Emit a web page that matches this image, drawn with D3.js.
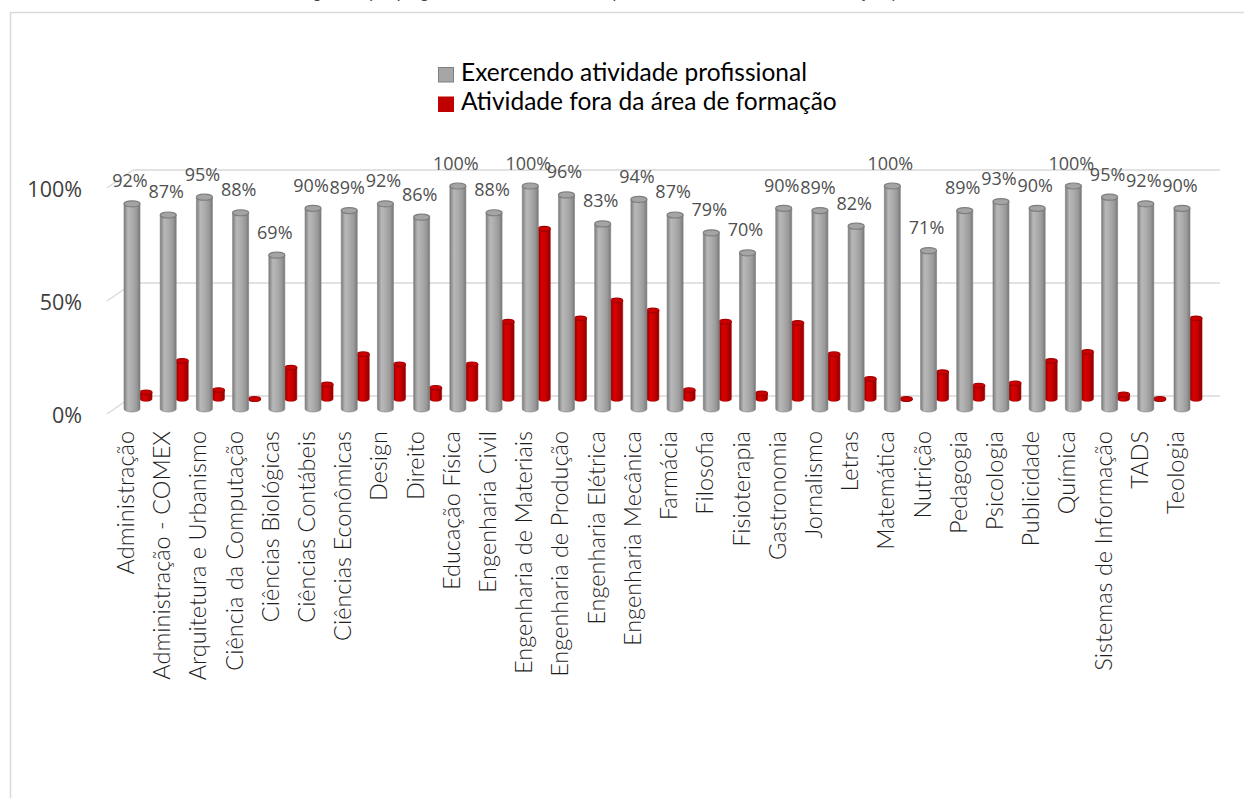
<!DOCTYPE html>
<html><head><meta charset="utf-8">
<script src="https://cdn.jsdelivr.net/npm/d3@7"></script>
<style>
html,body{margin:0;padding:0;background:#fff;}
svg{display:block;}
</style></head>
<body>
<svg id="chart" width="1244" height="798"></svg>
<script>
const categories = ["Administração","Administração - COMEX","Arquitetura e Urbanismo","Ciência da Computação","Ciências Biológicas","Ciências Contábeis","Ciências Econômicas","Design","Direito","Educação Física","Engenharia Civil","Engenharia de Materiais","Engenharia de Produção","Engenharia Elétrica","Engenharia Mecânica","Farmácia","Filosofia","Fisioterapia","Gastronomia","Jornalismo","Letras","Matemática","Nutrição","Pedagogia","Psicologia","Publicidade","Química","Sistemas de Informação","TADS","Teologia"];
const exercendo = [0.92,0.87,0.95,0.88,0.69,0.90,0.89,0.92,0.86,1.00,0.88,1.00,0.96,0.83,0.94,0.87,0.79,0.70,0.90,0.89,0.82,1.00,0.71,0.89,0.93,0.90,1.00,0.95,0.92,0.90];
const foraArea = [0.03,0.17,0.04,0.00,0.14,0.065,0.20,0.155,0.05,0.155,0.345,0.76,0.36,0.44,0.395,0.04,0.345,0.025,0.34,0.20,0.09,0.00,0.12,0.06,0.07,0.17,0.21,0.02,0.00,0.36];
const seriesNames = ["Exercendo atividade profissional","Atividade fora da área de formação"];
const yTicks = [0,0.5,1];
const titleText = "Gráfico 1. Percentual de egressos por programa exercendo atividade profissional e fora da área de formação, por curso";

const svg = d3.select("#chart");
const defs = svg.append("defs");
function grad(id, stops){
  const g = defs.append("linearGradient").attr("id",id).attr("x1","0%").attr("x2","100%").attr("y1","0%").attr("y2","0%");
  stops.forEach(s=>g.append("stop").attr("offset",s[0]).attr("stop-color",s[1]));
}
grad("gGray",[["0%","#7c7c7c"],["25%","#b8b8b8"],["50%","#adadad"],["80%","#999"],["100%","#777"]]);
grad("gRed",[["0%","#8c0000"],["30%","#dc0000"],["60%","#c80000"],["100%","#900000"]]);

// frame & title
svg.append("rect").attr("x",10.5).attr("y",12.5).attr("width",1400).attr("height",900)
  .attr("fill","none").attr("stroke","#d9d9d9").attr("stroke-width",1.5);
svg.append("text").attr("x",545).attr("y",-2).attr("text-anchor","middle")
  .attr("font-family","Lato, sans-serif").attr("font-size",16).attr("fill","#404040").text(titleText);

const x = d3.scalePoint().domain(categories).range([132,1182]);
const yWall = d3.scaleLinear().domain([0,1]).range([396,170]);
const yGray = d3.scaleLinear().domain([0,1]).range([409,186]);
const yRed = d3.scaleLinear().domain([0,1]).range([399,175]);
const depthDx = 26, depthDy = 18;
const wallLeft = 133, wallRight = 1220;

// gridlines (back wall + side wall)
const grid = svg.append("g").attr("stroke","#d9d9d9").attr("stroke-width",1.5).attr("fill","none");
yTicks.forEach(t=>{
  grid.append("line").attr("x1",wallLeft).attr("x2",wallRight).attr("y1",yWall(t)).attr("y2",yWall(t));
  grid.append("line").attr("x1",wallLeft).attr("y1",yWall(t)).attr("x2",wallLeft-depthDx).attr("y2",yWall(t)+depthDy);
});
svg.append("g").selectAll("text").data(yTicks).join("text")
  .attr("x",82).attr("y",t=>yWall(t)+depthDy+9).attr("text-anchor","end")
  .attr("font-family","'Open Sans', sans-serif").attr("font-size",21.5).attr("fill","#404040")
  .text(d3.format(".0%"));

function cylinder(g, cx, yTop, yBase, rx, ry, fillId, capFill, capStroke){
  g.append("path")
    .attr("d",`M${cx-rx},${yTop} L${cx-rx},${yBase} A${rx},${ry} 0 0 0 ${cx+rx},${yBase} L${cx+rx},${yTop} Z`)
    .attr("fill",`url(#${fillId})`).attr("stroke",capStroke).attr("stroke-width",0.6);
  g.append("ellipse").attr("cx",cx).attr("cy",yTop).attr("rx",rx).attr("ry",ry)
    .attr("fill",capFill).attr("stroke",capStroke).attr("stroke-width",1.2);
}

// red (back row)
const gRed = svg.append("g");
categories.forEach((c,i)=>{
  const cx = x(c)+14;
  cylinder(gRed, cx, yRed(foraArea[i]), yRed(0), 6, 2.3, "gRed", "#cc0000", "#a00000");
});
// gray (front row)
const gGray = svg.append("g");
categories.forEach((c,i)=>{
  cylinder(gGray, x(c), yGray(exercendo[i]), yGray(0), 8, 3, "gGray", "#a4a4a4", "#7f7f7f");
});

// value labels
svg.append("g").selectAll("text").data(categories).join("text")
  .attr("x",c=>x(c)-2).attr("y",(c,i)=>yGray(exercendo[i])-16.5).attr("text-anchor","middle")
  .attr("font-family","'Open Sans', sans-serif").attr("font-size",18).attr("fill","#505050")
  .text((c,i)=>d3.format(".0%")(exercendo[i]));

// category labels
svg.append("g").selectAll("text").data(categories).join("text")
  .attr("transform",c=>`translate(${x(c)+2},431) rotate(-90)`).attr("text-anchor","end")
  .attr("font-family","Lato, sans-serif").attr("font-size",23.5).attr("font-weight",300).attr("fill","#1e1e1e")
  .text(c=>c);

// legend
const leg = svg.append("g");
const legColors = [["#a6a6a6","#7f7f7f"],["#c00000","#c00000"]];
seriesNames.forEach((n,i)=>{
  leg.append("rect").attr("x",438.5).attr("y",67.5+i*29.5).attr("width",15).attr("height",14.5)
    .attr("fill",legColors[i][0]).attr("stroke",legColors[i][1]).attr("stroke-width",1);
  leg.append("text").attr("x",461).attr("y",81+i*28.5)
    .attr("font-family","Lato, sans-serif").attr("font-size",24.5).attr("fill","#000").text(n);
});
</script>
</body></html>
